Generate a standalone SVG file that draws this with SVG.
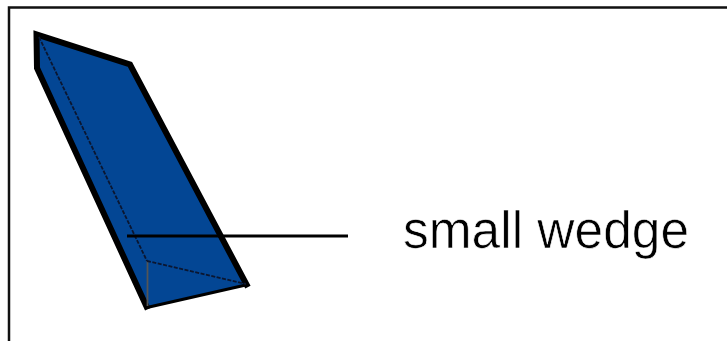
<svg xmlns="http://www.w3.org/2000/svg" width="727" height="341" viewBox="0 0 727 341">
<style>
.face{fill:#034694}
.edge{fill:none;stroke:#000;stroke-width:6;stroke-linejoin:miter;stroke-linecap:square}
.base{fill:none;stroke:#000;stroke-width:3}
.fold{fill:none;stroke:#0b1630;stroke-width:1.800;stroke-dasharray:4 1.500}
.fold2{fill:none;stroke:#555;stroke-width:1.800}
.line{fill:none;stroke:#000;stroke-width:3}
.label{font-family:"Liberation Sans",Arial,sans-serif;font-size:51px;fill:#000;stroke:#fff;stroke-width:.6}
</style>
<rect width="727" height="341" fill="#fff"/>
<path id="frame" d="M9 341V7.500H727" fill="none" stroke="#111" stroke-width="2.500"/>
<g id="wedge">
<path class="face" d="M36.500 34L130 64.500L247 284.500L147 307L37 68Z"/>
<path class="edge" d="M146.500 306.500L37 68L36.500 34.500L130 64.500L246.500 284.500"/>
<path class="base" d="M147 307.500L248 284.500"/>
<path class="fold" d="M39 37L147 261"/>
<path class="fold2" d="M147.500 261V306"/>
<path class="fold" d="M147 261L246 284"/>
</g>
<g id="connectors">
<path class="line" d="M127 236H348"/>
</g>
<g id="label">
<text class="label" x="403" y="248" textLength="286" lengthAdjust="spacingAndGlyphs">small wedge</text>
</g>
</svg>
